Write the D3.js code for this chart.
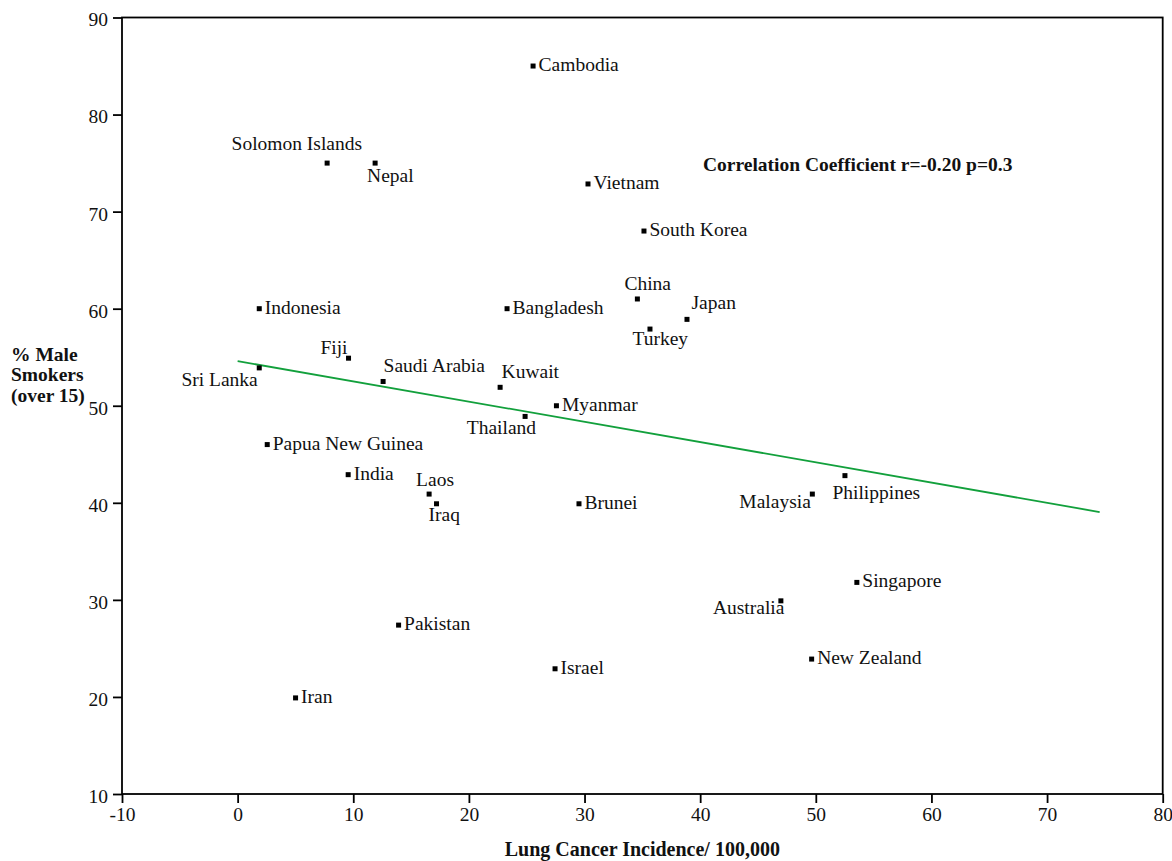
<!DOCTYPE html>
<html>
<head>
<meta charset="utf-8">
<script src="https://cdn.jsdelivr.net/npm/d3@7"></script>
<style>
  html, body { margin: 0; padding: 0; background: #fff; }
  svg { display: block; }
  text { font-family: "Liberation Serif", "Times New Roman", serif; fill: #111; }
</style>
</head>
<body>
<svg id="chart" width="1172" height="861"></svg>
<script>
// ---- data ----
const countries = ["Cambodia","Solomon Islands","Nepal","Vietnam","South Korea","China","Japan","Turkey",
  "Indonesia","Bangladesh","Fiji","Sri Lanka","Saudi Arabia","Kuwait","Myanmar","Thailand",
  "Papua New Guinea","India","Laos","Iraq","Brunei","Malaysia","Philippines","Singapore",
  "Australia","New Zealand","Pakistan","Israel","Iran"];
const lungCancer = [25.55, 7.74, 11.89, 30.3, 35.14, 34.57, 38.86, 35.66,
  1.87, 23.3, 9.59, 1.87, 12.58, 22.7, 27.57, 24.86,
  2.56, 9.56, 16.56, 17.2, 29.52, 49.7, 52.52, 53.55,
  46.98, 49.64, 13.92, 27.45, 5.01];
const maleSmokers = [85.0, 75.0, 75.0, 72.85, 68.0, 61.0, 58.9, 57.9,
  60.0, 60.0, 54.9, 53.9, 52.5, 51.9, 50.0, 48.9,
  46.0, 42.9, 40.9, 39.9, 39.9, 40.9, 42.8, 31.8,
  29.9, 23.9, 27.4, 22.9, 19.9];
const xTicks = [-10, 0, 10, 20, 30, 40, 50, 60, 70, 80];
const yTicks = [10, 20, 30, 40, 50, 60, 70, 80, 90];
const xTickLabels = ["-10", "0", "10", "20", "30", "40", "50", "60", "70", "80"];
const yTickLabels = ["10", "20", "30", "40", "50", "60", "70", "80", "90"];
const trendX = [0, 74.55];
const trendY = [54.6, 39.05];
const xTitle = "Lung Cancer Incidence/ 100,000";
const yTitle = ["% Male", "Smokers", "(over 15)"];
const note = "Correlation Coefficient r=-0.20 p=0.3";

// ---- label placement (anchor, dx, dy relative to marker) ----
const defaultPlace = ["start", 5.5, 5];
const labelPlace = {
  "Solomon Islands": ["end", 35, -13],
  "Nepal": ["start", -8, 18.5],
  "Fiji": ["end", -1, -4],
  "Sri Lanka": ["end", -1.5, 18.5],
  "Saudi Arabia": ["start", 0.5, -9.5],
  "Kuwait": ["start", 1.5, -9],
  "Thailand": ["end", 11, 18],
  "Laos": ["start", -13, -8.5],
  "Iraq": ["start", -8, 17.5],
  "China": ["start", -13, -8.5],
  "Japan": ["start", 4.5, -10],
  "Turkey": ["start", -17.5, 15.5],
  "Malaysia": ["end", -1.5, 13.5],
  "Philippines": ["start", -12.5, 23],
  "Australia": ["end", 3.5, 13.5]
};

// ---- layout ----
const svg = d3.select("#chart");
const pL = 122, pR = 1162.7, pT = 17.5, pB = 794;
const x = d3.scaleLinear().domain([-10, 80]).range([pL, pR]);
const y = d3.scaleLinear().domain([10, 90]).range([pB, pT]);
const fs = 19.5;
const serif = '"Liberation Serif", "Times New Roman", serif';

// axes
const xAxis = svg.append("g").attr("transform", `translate(0,${pB})`)
  .call(d3.axisBottom(x).tickValues(xTicks).tickSize(9).tickSizeOuter(0).tickPadding(4)
    .tickFormat((d, i) => xTickLabels[i]));
const yAxis = svg.append("g").attr("transform", `translate(${pL},0)`)
  .call(d3.axisLeft(y).tickValues(yTicks).tickSize(9).tickSizeOuter(0).tickPadding(5)
    .tickFormat((d, i) => yTickLabels[i]));
[xAxis, yAxis].forEach(g => {
  g.attr("font-family", serif).attr("font-size", fs);
  g.select(".domain").remove();
  g.selectAll(".tick line").attr("stroke", "#000").attr("stroke-width", 1.8);
  g.selectAll(".tick text").style("font-family", serif).style("font-size", fs + "px").attr("fill", "#111");
});
yAxis.selectAll(".tick text").attr("dy", "0.43em");

// frame
svg.append("rect").attr("x", pL).attr("y", pT)
  .attr("width", pR - pL).attr("height", pB - pT)
  .attr("fill", "none").attr("stroke", "#000").attr("stroke-width", 1.8);

// trend line
svg.append("line")
  .attr("x1", x(trendX[0])).attr("y1", y(trendY[0]))
  .attr("x2", x(trendX[1])).attr("y2", y(trendY[1]))
  .attr("stroke", "#12a03c").attr("stroke-width", 1.8);

// points
const pts = countries.map((c, i) => ({ name: c, xv: lungCancer[i], yv: maleSmokers[i] }));
svg.append("g").selectAll("rect").data(pts).join("rect")
  .attr("x", d => x(d.xv) - 2.5).attr("y", d => y(d.yv) - 2.5)
  .attr("width", 5).attr("height", 5).attr("fill", "#000");

// labels
svg.append("g").selectAll("text").data(pts).join("text")
  .attr("font-size", fs)
  .each(function(d) {
    const p = labelPlace[d.name] || defaultPlace;
    d3.select(this).attr("text-anchor", p[0])
      .attr("x", x(d.xv) + p[1]).attr("y", y(d.yv) + p[2]);
  })
  .text(d => d.name);

// annotation
svg.append("text").attr("x", 703).attr("y", 170.5)
  .attr("font-size", fs).attr("font-weight", "bold").text(note);

// axis titles
svg.append("text").attr("x", (pL + pR) / 2).attr("y", 855.5)
  .attr("text-anchor", "middle").attr("font-size", 20).attr("font-weight", "bold").text(xTitle);
const yt = svg.append("text").attr("font-size", fs).attr("font-weight", "bold");
yTitle.forEach((t, i) => {
  yt.append("tspan").attr("x", 11).attr("y", 360.5 + i * 20.5).text(t);
});
</script>
</body>
</html>
